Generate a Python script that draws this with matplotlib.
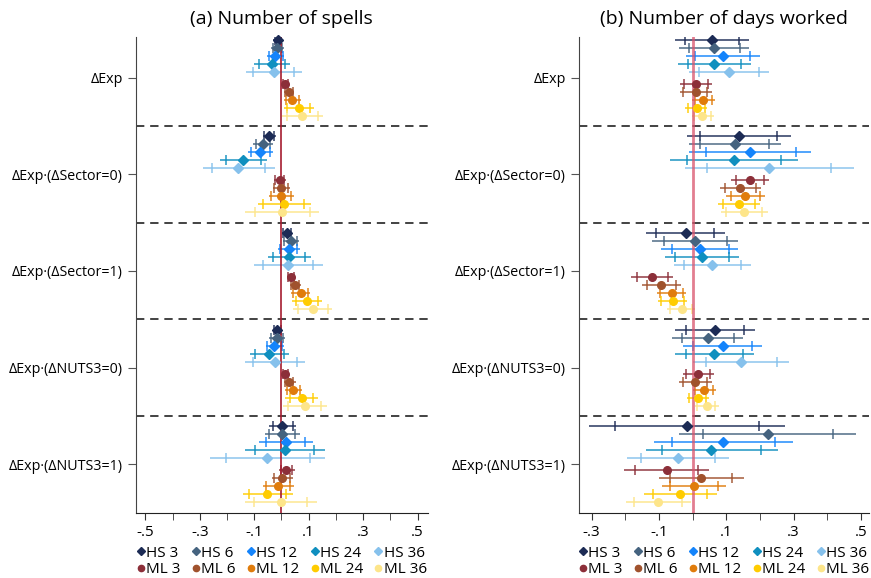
import matplotlib
matplotlib.use("Agg")
import matplotlib.pyplot as plt
from matplotlib.lines import Line2D
from matplotlib.ticker import FuncFormatter
import numpy as np

plt.rcParams['font.family'] = ['Open Sans', 'DejaVu Sans']

groups = ["ΔExp", "ΔExp·(ΔSector=0)", "ΔExp·(ΔSector=1)", "ΔExp·(ΔNUTS3=0)", "ΔExp·(ΔNUTS3=1)"]
series = ["HS 3", "HS 6", "HS 12", "HS 24", "HS 36", "ML 3", "ML 6", "ML 12", "ML 24", "ML 36"]
colors = ["#1c2b55", "#45637f", "#1484fb", "#0f8fbf", "#86c1ec",
          "#8c2f39", "#a0522d", "#e07c0c", "#ffcc00", "#fde58a"]
markers = ["D"] * 5 + ["o"] * 5

# (a) Number of spells: rows = groups, cols = series
spells_est = np.array([
    [-0.014, -0.016, -0.023, -0.036, -0.028, 0.014, 0.028, 0.039, 0.064, 0.076],
    [-0.045, -0.069, -0.079, -0.140, -0.158, -0.007, -0.003, -0.002, 0.009, 0.003],
    [0.019, 0.035, 0.026, 0.029, 0.025, 0.034, 0.050, 0.070, 0.094, 0.114],
    [-0.015, -0.018, -0.028, -0.045, -0.024, 0.014, 0.029, 0.043, 0.074, 0.085],
    [0.003, 0.003, 0.015, 0.014, -0.052, 0.018, 0.002, -0.012, -0.052, -0.002]])
spells_lo95 = np.array([
    [-0.030, -0.040, -0.053, -0.101, -0.131, 0.002, 0.009, 0.009, 0.009, 0.001],
    [-0.069, -0.103, -0.123, -0.226, -0.289, -0.029, -0.032, -0.047, -0.086, -0.133],
    [0.001, 0.004, -0.014, -0.050, -0.101, 0.019, 0.030, 0.036, 0.039, 0.043],
    [-0.032, -0.045, -0.058, -0.116, -0.134, 0.001, 0.008, 0.012, 0.014, 0.004],
    [-0.047, -0.062, -0.083, -0.134, -0.262, -0.010, -0.036, -0.069, -0.142, -0.133]])
spells_hi95 = np.array([
    [0.004, 0.010, 0.010, 0.031, 0.074, 0.029, 0.047, 0.070, 0.118, 0.151],
    [-0.021, -0.032, -0.032, -0.054, -0.025, 0.015, 0.031, 0.046, 0.107, 0.139],
    [0.040, 0.065, 0.068, 0.108, 0.151, 0.050, 0.072, 0.105, 0.149, 0.184],
    [0.003, 0.012, 0.008, 0.026, 0.087, 0.029, 0.052, 0.076, 0.133, 0.166],
    [0.054, 0.067, 0.114, 0.158, 0.160, 0.048, 0.041, 0.045, 0.041, 0.131]])
spells_lo90 = np.array([
    [-0.024, -0.032, -0.047, -0.084, -0.105, 0.007, 0.013, 0.015, 0.019, 0.019],
    [-0.063, -0.095, -0.113, -0.204, -0.255, -0.023, -0.026, -0.037, -0.067, -0.096],
    [0.007, 0.010, -0.006, -0.030, -0.067, 0.024, 0.036, 0.043, 0.052, 0.061],
    [-0.028, -0.037, -0.052, -0.096, -0.106, 0.006, 0.014, 0.019, 0.031, 0.025],
    [-0.032, -0.045, -0.057, -0.096, -0.205, -0.003, -0.026, -0.057, -0.120, -0.100]])
spells_hi90 = np.array([
    [-0.003, 0.003, 0.004, 0.012, 0.047, 0.024, 0.043, 0.064, 0.106, 0.133],
    [-0.028, -0.041, -0.043, -0.076, -0.061, 0.009, 0.024, 0.036, 0.084, 0.105],
    [0.034, 0.058, 0.056, 0.087, 0.117, 0.045, 0.065, 0.096, 0.135, 0.171],
    [-0.002, 0.006, 0.002, 0.009, 0.058, 0.024, 0.043, 0.068, 0.116, 0.145],
    [0.041, 0.051, 0.086, 0.120, 0.105, 0.040, 0.031, 0.031, 0.018, 0.095]])

# (b) Number of days worked
days_est = np.array([
    [0.057, 0.064, 0.089, 0.064, 0.109, 0.010, 0.010, 0.032, 0.012, 0.029],
    [0.137, 0.126, 0.172, 0.123, 0.228, 0.170, 0.141, 0.157, 0.137, 0.152],
    [-0.021, 0.007, 0.022, 0.028, 0.057, -0.120, -0.093, -0.062, -0.059, -0.033],
    [0.066, 0.045, 0.089, 0.065, 0.144, 0.015, 0.008, 0.034, 0.015, 0.042],
    [-0.017, 0.223, 0.091, 0.056, -0.044, -0.077, 0.025, 0.004, -0.037, -0.103]])
days_lo95 = np.array([
    [-0.051, -0.039, -0.021, -0.043, -0.010, -0.036, -0.036, -0.001, -0.022, -0.002],
    [-0.017, -0.012, -0.010, -0.067, -0.024, 0.115, 0.080, 0.099, 0.076, 0.085],
    [-0.138, -0.120, -0.093, -0.082, -0.056, -0.182, -0.150, -0.106, -0.104, -0.076],
    [-0.051, -0.061, -0.029, -0.051, 0.002, -0.029, -0.041, 0.001, -0.017, 0.007],
    [-0.307, -0.039, -0.115, -0.140, -0.195, -0.204, -0.101, -0.091, -0.144, -0.198]])
days_hi95 = np.array([
    [0.168, 0.168, 0.199, 0.173, 0.228, 0.058, 0.058, 0.067, 0.042, 0.063],
    [0.291, 0.264, 0.353, 0.313, 0.480, 0.227, 0.203, 0.216, 0.200, 0.223],
    [0.096, 0.136, 0.135, 0.138, 0.173, -0.057, -0.035, -0.019, -0.017, 0.007],
    [0.184, 0.151, 0.207, 0.182, 0.287, 0.064, 0.059, 0.070, 0.049, 0.077],
    [0.275, 0.486, 0.298, 0.254, 0.109, 0.048, 0.152, 0.099, 0.072, -0.005]])
days_lo90 = np.array([
    [-0.022, -0.012, 0.008, -0.014, 0.020, -0.025, -0.029, 0.007, -0.014, 0.004],
    [0.023, 0.023, 0.039, -0.017, 0.042, 0.129, 0.096, 0.114, 0.091, 0.100],
    [-0.108, -0.086, -0.062, -0.052, -0.025, -0.165, -0.135, -0.096, -0.095, -0.066],
    [-0.021, -0.033, 0.001, -0.020, 0.040, -0.019, -0.028, 0.008, -0.010, 0.013],
    [-0.231, 0.030, -0.060, -0.090, -0.154, -0.170, -0.067, -0.067, -0.117, -0.173]])
days_hi90 = np.array([
    [0.138, 0.141, 0.171, 0.144, 0.196, 0.045, 0.043, 0.058, 0.036, 0.056],
    [0.250, 0.228, 0.306, 0.262, 0.412, 0.212, 0.187, 0.201, 0.184, 0.206],
    [0.064, 0.101, 0.107, 0.109, 0.143, -0.074, -0.050, -0.029, -0.026, -0.001],
    [0.152, 0.124, 0.176, 0.151, 0.251, 0.051, 0.044, 0.061, 0.040, 0.068],
    [0.198, 0.416, 0.244, 0.202, 0.068, 0.016, 0.118, 0.074, 0.042, -0.033]])

spells_xticks = [-0.5, -0.3, -0.1, 0.1, 0.3, 0.5]
days_xticks = [-0.3, -0.1, 0.1, 0.3, 0.5]

# vertical offset of each series inside a group
offsets = np.array([-38, -30, -22, -14, -6, 6, 14, 22, 30, 38]) / 96.7


def short_fmt(v, pos):
    s = "%.1f" % v
    return s.replace("0.", ".")


def panel(ax, est, lo95, hi95, lo90, hi90, title, xticks, xlim, zcolor, zlw, zalpha):
    for g in range(len(groups)):
        for s in range(len(series)):
            y = g + offsets[s]
            ax.plot([lo95[g, s], hi95[g, s]], [y, y], color=colors[s], lw=1.3,
                    alpha=0.8, solid_capstyle='butt', zorder=2)
            ax.plot([lo90[g, s], hi90[g, s]], [y, y], ls='none', marker='|', ms=7,
                    mew=1.2, color=colors[s], alpha=0.85, zorder=2)
            ax.plot(est[g, s], y, marker=markers[s], ms=5.5 if markers[s] == 'o' else 5,
                    color=colors[s], ls='none', zorder=4, clip_on=False)
    for b in np.arange(0.5, len(groups) - 0.5, 1):
        ax.axhline(b, color='#222222', ls=(0, (5, 3.5)), lw=1.2, zorder=1)
    ax.axvline(0, color=zcolor, lw=zlw, alpha=zalpha, zorder=3)
    ax.set_yticks(range(len(groups)))
    ax.set_yticklabels(groups, fontsize=10.3)
    ax.set_xticks(xticks)
    minor = [v + 0.1 for v in xticks[:-1]]
    if xlim[0] < xticks[0] - 0.1:
        minor = [xticks[0] - 0.1] + minor
    ax.set_xticks(minor, minor=True)
    ax.xaxis.set_major_formatter(FuncFormatter(short_fmt))
    ax.set_xlim(xlim)
    ax.set_ylim(4.507, -0.42)
    ax.tick_params(axis='x', labelsize=11)
    ax.tick_params(axis='x', which='both', length=5, color='#333333')
    ax.tick_params(axis='y', length=6, color='#555555')
    for sp in ['top', 'right']:
        ax.spines[sp].set_visible(False)
    ax.spines['left'].set_color('#444444')
    ax.spines['bottom'].set_color('#222222')
    ax.set_title(title, fontsize=14, pad=9)
    order = [0, 5, 1, 6, 2, 7, 3, 8, 4, 9]
    handles = [Line2D([], [], ls='none', marker=markers[i], color=colors[i],
                      ms=4.5 if markers[i] == 'o' else 4) for i in order]
    ax.legend(handles, [series[i] for i in order], ncol=5, frameon=False,
              loc='upper center', bbox_to_anchor=(0.5, -0.068), fontsize=11,
              handlelength=0.5, handletextpad=0.1, columnspacing=0.75,
              labelspacing=0.12, borderaxespad=0, borderpad=0)


fig = plt.figure(figsize=(8.71, 5.78), dpi=100)
ax1 = fig.add_axes([0.156, 0.112, 0.335, 0.824])
ax2 = fig.add_axes([0.665, 0.112, 0.333, 0.824])

panel(ax1, spells_est, spells_lo95, spells_hi95, spells_lo90, spells_hi90,
      "(a) Number of spells", spells_xticks, (-0.535, 0.537), '#a51c30', 1.2, 1.0)
panel(ax2, days_est, days_lo95, days_hi95, days_lo90, days_hi90,
      "(b) Number of days worked", days_xticks, (-0.337, 0.525), '#d9536b', 2.0, 0.75)

fig.savefig("out.png", dpi=100)
